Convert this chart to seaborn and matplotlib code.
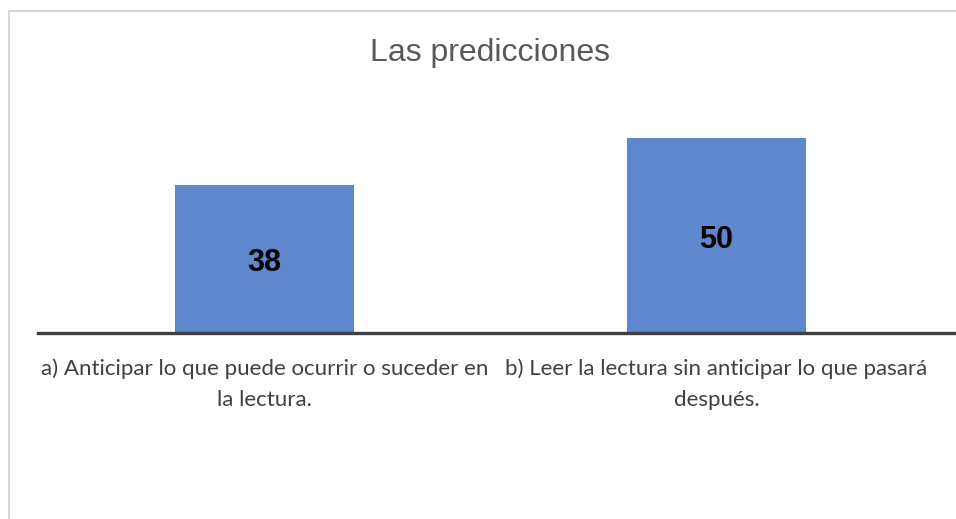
import seaborn as sns
import pandas as pd
import matplotlib.pyplot as plt
from matplotlib.patches import Rectangle

categories = ["a) Anticipar lo que puede ocurrir o suceder en\nla lectura.",
              "b) Leer la lectura sin anticipar lo que pasará\ndespués."]
values = [38, 50]
title = "Las predicciones"

df = pd.DataFrame({"respuesta": categories, "total": values})

sns.set_style("white")
plt.rcParams['font.family'] = ['Liberation Sans', 'DejaVu Sans']

fig = plt.figure(figsize=(9.56, 5.19), dpi=100)
ax = fig.add_axes([38 / 956, 186 / 519, 918 / 956, 233 / 519])

sns.barplot(data=df, x="respuesta", y="total", color="#5E87CD",
            saturation=1, width=0.396, linewidth=0, ax=ax)

ax.set_xlim(-0.501, 1.530)
ax.set_ylim(0, 59.7)

# value labels in the middle of each bar
for i, v in enumerate(values):
    ax.annotate(str(v), (i, v / 2), xytext=(0, -3), textcoords="offset points",
                ha="center", va="center", fontsize=22, fontweight="bold",
                color="black")

for s in ["top", "left", "right"]:
    ax.spines[s].set_visible(False)
ax.spines["bottom"].set_color("#404040")
ax.spines["bottom"].set_linewidth(2.4)
ax.set_yticks([])
ax.set_xlabel("")
ax.set_ylabel("")
ax.tick_params(axis="x", length=0, pad=18)
for lbl in ax.get_xticklabels():
    lbl.set_fontfamily(["Lato", "DejaVu Sans"])
    lbl.set_fontsize(16)
    lbl.set_color("#404040")
    lbl.set_linespacing(1.7)

fig.text(490 / 956, 1 - 53 / 519, title, ha="center", va="center",
         fontsize=23, color="#595959")

# chart frame
fig.patches.append(Rectangle((9 / 956, -0.2), 1.2, 1.2 - 11 / 519,
                             transform=fig.transFigure, fill=False,
                             edgecolor="#d0d0d0", linewidth=1.2))

fig.savefig("out.png", dpi=100)
